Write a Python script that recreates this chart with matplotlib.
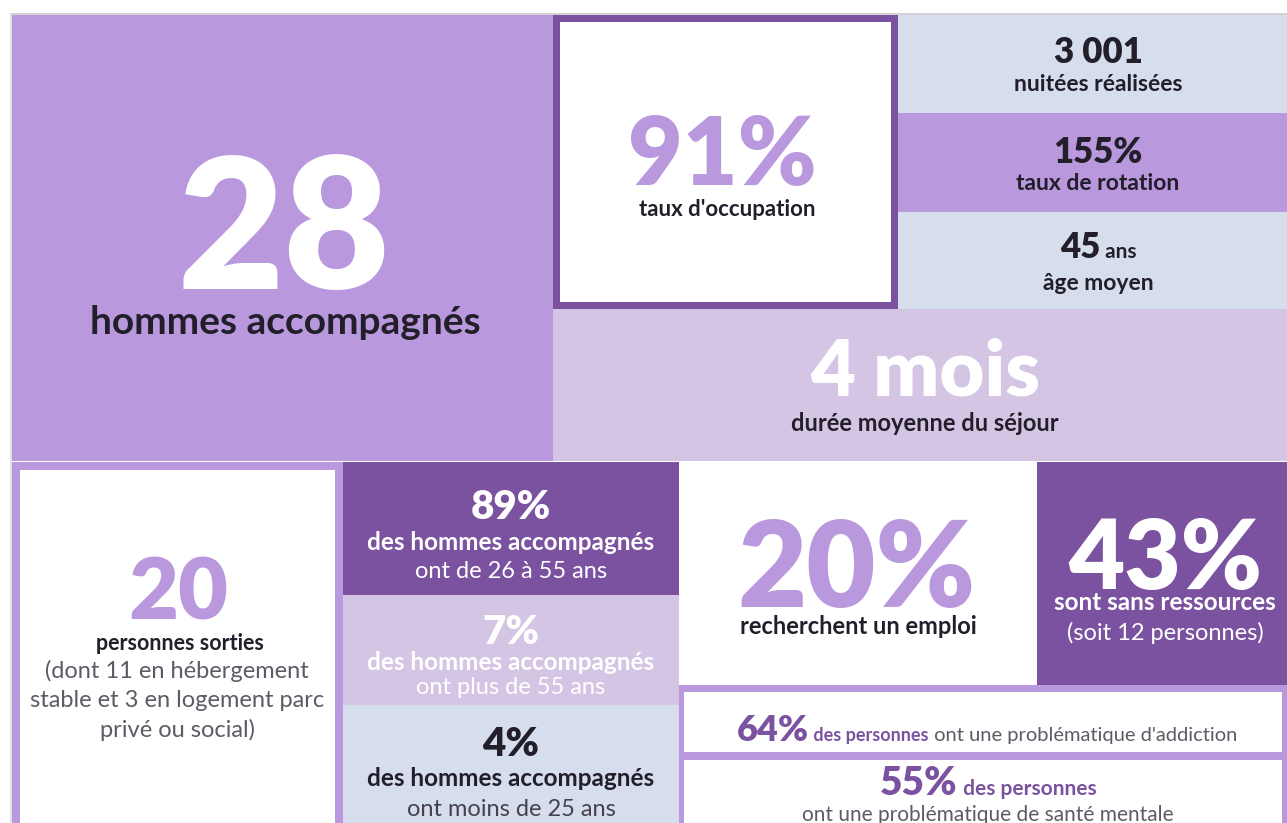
import matplotlib
matplotlib.use("Agg")
import matplotlib.pyplot as plt
from matplotlib.patches import Rectangle

# ---- data (values read from the infographic) ----
hommes_accompagnes = "28"
taux_occupation = "91%"
nuitees = "3 001"
taux_rotation = "155%"
age_moyen = "45"
duree_sejour = "4 mois"
personnes_sorties = "20"
age_groups_pct = ["89%", "7%", "4%"]
age_groups_label = ["ont de 26 à 55 ans", "ont plus de 55 ans", "ont moins de 25 ans"]
recherche_emploi = "20%"
sans_ressources = "43%"
addiction_pct = "64%"
sante_mentale_pct = "55%"

# ---- style ----
PURPLE = "#B998DD"
DARK = "#7B52A0"
LAV = "#D5C5E5"
BLUE = "#D6DEEE"
WHITE = "#FFFFFF"
TXT = "#221E2A"
GRAY = "#5E5A66"
FAM = ["Lato", "DejaVu Sans"]
REG = "normal"

W, H = 1287, 823
fig = plt.figure(figsize=(W / 100, H / 100), dpi=100)
ax = fig.add_axes([0, 0, 1, 1])
ax.set_xlim(0, W)
ax.set_ylim(H, 0)
ax.axis("off")


def rect(x0, y0, x1, y1, c):
    ax.add_patch(Rectangle((x0, y0), x1 - x0, y1 - y0, facecolor=c, edgecolor="none", lw=0))


def txt(x, y, s, size, color=TXT, weight="bold", va="center"):
    return ax.text(x, y, s, fontsize=size, color=color, fontweight=weight,
                   family=FAM, ha="center", va=va)


def big(x, y, s, size, color):
    return txt(x, y, s, size, color, "heavy", va="baseline")


def mixed(xc, y, pieces):
    arts = []
    for s, size, weight, color in pieces:
        arts.append(ax.text(0, y, s, fontsize=size, fontweight=weight, color=color,
                            family=FAM, ha="left", va="baseline"))
    r = fig.canvas.get_renderer()
    widths = [a.get_window_extent(renderer=r).width for a in arts]
    total = sum(widths)
    x = xc - total / 2
    for a, w in zip(arts, widths):
        a.set_x(x)
        x += w


# ---- blocks ----
ax.plot([11, W], [14, 14], color="#C9C9C9", lw=1.2)
ax.plot([11, 11], [14, H], color="#DDDDDD", lw=1.2)

rect(12, 15, 553, 461, PURPLE)
rect(553, 15, 898, 309, DARK)
rect(560, 22, 891, 302, WHITE)
rect(898, 15, W, 113, BLUE)
rect(898, 113, W, 212, PURPLE)
rect(898, 212, W, 309, BLUE)
rect(553, 309, W, 461, LAV)

rect(12, 462, 343, H, PURPLE)
rect(20, 470, 335, H, WHITE)
rect(343, 462, 679, 595, DARK)
rect(343, 595, 679, 705, LAV)
rect(343, 705, 679, H, BLUE)
rect(679, 462, 1037, 685, WHITE)
rect(1037, 462, W, 685, DARK)
rect(679, 685, W, H, PURPLE)
rect(684, 692, 1282, 752, WHITE)
rect(684, 760, 1282, H, WHITE)

# ---- texts ----
big(284, 289, hommes_accompagnes, 132, WHITE)
txt(285, 322, "hommes accompagnés", 28)

big(722, 185, taux_occupation, 68, PURPLE)
txt(727, 209, "taux d'occupation", 16)

big(1098, 63, nuitees, 25, TXT)
txt(1098, 84, "nuitées réalisées", 16.5)
big(1098, 163, taux_rotation, 25, TXT)
txt(1098, 183, "taux de rotation", 16.5)
mixed(1098, 258, [(age_moyen, 25, "heavy", TXT), (" ans", 15, "bold", TXT)])
txt(1098, 283, "âge moyen", 16.5)

big(925, 395, duree_sejour, 56, WHITE)
txt(925, 423, "durée moyenne du séjour", 17)

big(178, 620, personnes_sorties, 62, PURPLE)
txt(180, 644, "personnes sorties", 15.5)
for i, line in enumerate(["(dont 11 en hébergement", "stable et 3 en logement parc", "privé ou social)"]):
    txt(177, 671 + 29.5 * i, line, 17, GRAY, REG)

big(511, 519, age_groups_pct[0], 29, WHITE)
txt(511, 543, "des hommes accompagnés", 17.5, WHITE)
txt(511, 572, age_groups_label[0], 17, WHITE, REG)
big(511, 644, age_groups_pct[1], 29, WHITE)
txt(511, 662, "des hommes accompagnés", 17.5, WHITE)
txt(511, 687, age_groups_label[1], 17, WHITE, REG)
big(511, 756, age_groups_pct[2], 29, TXT)
txt(511, 779, "des hommes accompagnés", 17.5)
txt(511, 810, age_groups_label[2], 17, "#45414D", REG)

big(857, 607, recherche_emploi, 86, PURPLE)
txt(858, 627, "recherchent un emploi", 17)
big(1165, 589, sans_ressources, 70, WHITE)
txt(1165, 602, "sont sans ressources", 17.5, WHITE)
txt(1165, 633, "(soit 12 personnes)", 17, WHITE, REG)

mixed(987, 741, [(addiction_pct, 26, "heavy", DARK), (" des personnes", 13, "bold", DARK),
                 (" ont une problématique d'addiction", 14.5, REG, GRAY)])
mixed(988, 795, [(sante_mentale_pct, 28, "heavy", DARK), (" des personnes", 15, "bold", DARK)])
txt(988, 815, "ont une problématique de santé mentale", 15, GRAY, REG)

fig.savefig("out.png", dpi=100)
